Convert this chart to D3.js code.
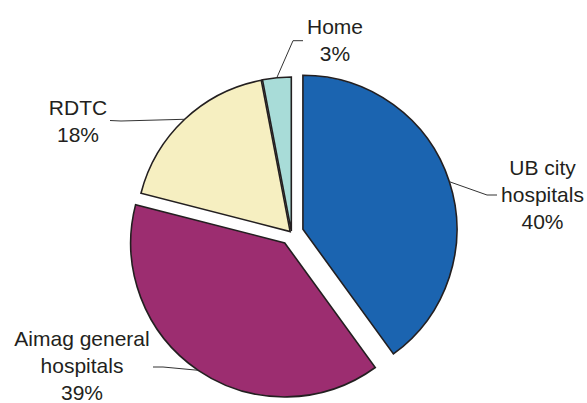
<!DOCTYPE html>
<html>
<head>
<meta charset="utf-8">
<script src="https://cdn.jsdelivr.net/npm/d3@7"></script>
<style>
  html, body { margin: 0; padding: 0; background: #fff; }
  svg { display: block; }
  text { font-family: "Liberation Sans", Arial, sans-serif; font-size: 21px; fill: #231f20; }
</style>
</head>
<body>
<svg id="chart" width="587" height="403"></svg>
<script>
// ---- data ----
const categories = ["UB city hospitals", "Aimag general hospitals", "RDTC", "Home"];
const labelLines = [["UB city", "hospitals"], ["Aimag general", "hospitals"], ["RDTC"], ["Home"]];
const values = [40, 39, 18, 3];
const colors = ["#1b64b0", "#9c2d70", "#f6efc1", "#a8dcd8"];

// ---- layout ----
const cx = 291.5, cy = 233, radius = 154;
const explode = [12, 12, 2, 2];
// label anchor (center x, first baseline y), leader elbow & end
const labelLayout = [
  { x: 542.5, y: 175,  elbow: [487, 195], end: [497, 195] },
  { x: 82,    y: 346,  elbow: [163, 367], end: [153, 367] },
  { x: 78,    y: 115,  elbow: [121, 121], end: [110, 120.5] },
  { x: 335,   y: 34.3, elbow: [293, 40.7], end: [303, 40.7] }
];
const lineHeight = 27;

const svg = d3.select("#chart");
const total = d3.sum(values);
const pie = d3.pie().sort(null).startAngle(0).endAngle(2 * Math.PI);
const arcs = pie(values);
const arc = d3.arc().innerRadius(0).outerRadius(radius);

const g = svg.append("g");

arcs.forEach((a, i) => {
  const mid = (a.startAngle + a.endAngle) / 2;
  const dx = Math.sin(mid) * explode[i];
  const dy = -Math.cos(mid) * explode[i];
  const ox = cx + dx, oy = cy + dy;
  g.append("path")
    .attr("d", arc(a))
    .attr("transform", `translate(${ox},${oy})`)
    .attr("fill", colors[i])
    .attr("stroke", "#231f20")
    .attr("stroke-width", 1.6)
    .attr("stroke-linejoin", "miter");

  // leader line from arc edge at mid-angle
  const sx = ox + Math.sin(mid) * radius;
  const sy = oy - Math.cos(mid) * radius;
  const L = labelLayout[i];
  svg.append("path")
    .attr("d", d3.line()([[sx, sy], L.elbow, L.end]))
    .attr("fill", "none")
    .attr("stroke", "#333")
    .attr("stroke-width", 1);

  const lines = labelLines[i].concat([Math.round(values[i] / total * 100) + "%"]);
  const t = svg.append("text").attr("text-anchor", "middle");
  lines.forEach((s, k) => {
    t.append("tspan").attr("x", L.x).attr("y", L.y + k * lineHeight).text(s);
  });
});
</script>
</body>
</html>
